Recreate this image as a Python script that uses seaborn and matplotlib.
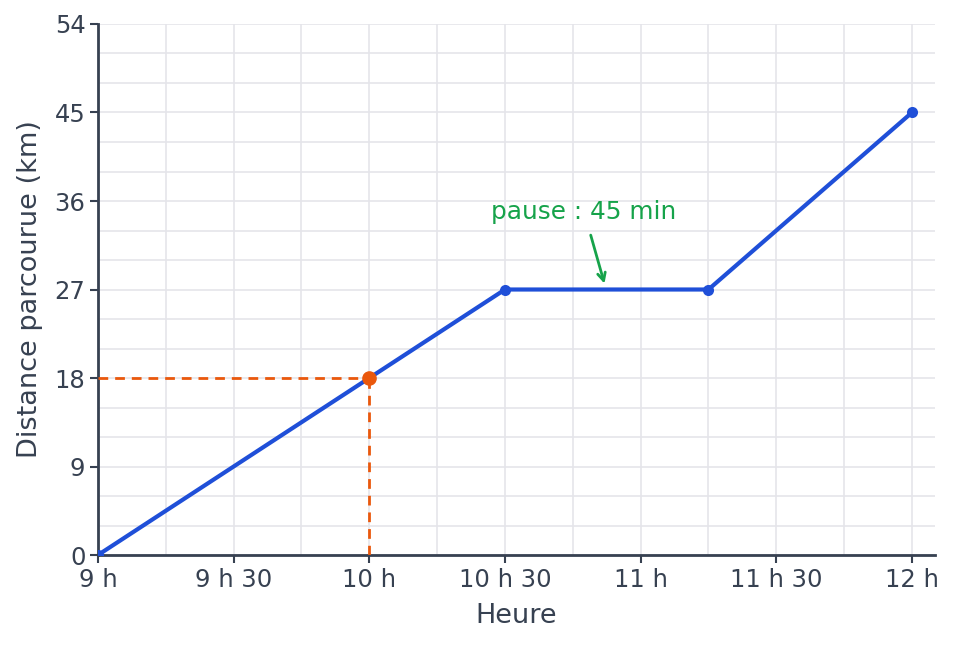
import numpy as np
import pandas as pd
import matplotlib
matplotlib.use("Agg")
import matplotlib.pyplot as plt
import seaborn as sns
from matplotlib.ticker import MultipleLocator, FuncFormatter

# data
heures = ["9:00", "10:00", "10:30", "11:15", "12:00"]
distances = [0, 18, 27, 27, 45]
point_heure = "10:00"
point_distance = 18
pause_label = "pause : 45 min"

def to_hours(s):
    h, m = s.split(":")
    return int(h) + int(m) / 60

df = pd.DataFrame({"Heure": [to_hours(h) for h in heures], "Distance": distances})
px = to_hours(point_heure)

sns.set_theme(style="white")
plt.rcParams['font.family'] = ['DejaVu Sans']

txt = "#374151"
blue = "#1f4fd8"
orange = "#ea580c"
green = "#16a34a"

fig = plt.figure(figsize=(9.55, 6.45), dpi=100)
ax = fig.add_axes([0.1026, 0.1395, 0.876, 0.8233])

sns.lineplot(data=df, x="Heure", y="Distance", ax=ax, color=blue, linewidth=3,
             marker="o", markersize=8, markeredgewidth=0, zorder=4)

ax.plot([9, px], [point_distance, point_distance], ls=(0, (3.5, 2.5)), color=orange, lw=2, zorder=3)
ax.plot([px, px], [0, point_distance], ls=(0, (3.5, 2.5)), color=orange, lw=2, zorder=3)
ax.plot([px], [point_distance], "o", color=orange, markersize=9.5, zorder=5)

ax.annotate(pause_label, xy=(10 + 52 / 60, 27.6), xytext=(10 + 47.5 / 60, 34.9),
            ha="center", va="center", color=green, fontsize=17.8,
            arrowprops=dict(arrowstyle="->", color=green, lw=2, shrinkA=6, shrinkB=0,
                            mutation_scale=14))

ax.set_xlim(9, 12 + 5 / 60)
ax.set_ylim(0, 54)
ax.xaxis.set_major_locator(MultipleLocator(0.5))
ax.xaxis.set_minor_locator(MultipleLocator(0.25))
ax.yaxis.set_major_locator(MultipleLocator(9))
ax.yaxis.set_minor_locator(MultipleLocator(3))

def fmt(v, pos):
    h = int(round(v * 60)) // 60
    m = int(round(v * 60)) % 60
    return f"{h} h" if m == 0 else f"{h} h {m:02d}"

ax.xaxis.set_major_formatter(FuncFormatter(fmt))
ax.grid(True, which="both", color="#e5e5ea", lw=1.2)
ax.set_axisbelow(True)

for s in ["top", "right"]:
    ax.spines[s].set_visible(False)
for s in ["left", "bottom"]:
    ax.spines[s].set_color(txt)
    ax.spines[s].set_linewidth(2)

ax.tick_params(axis="both", which="major", direction="out", length=6, width=1.5,
               color=txt, labelcolor=txt, labelsize=17.5, bottom=True, left=True, pad=3)
ax.tick_params(axis="both", which="minor", length=0)
ax.set_xlabel("Heure", fontsize=19.5, color=txt, labelpad=8)
ax.set_ylabel("Distance parcourue (km)", fontsize=19.5, color=txt, labelpad=8)

fig.savefig("out.png", dpi=100)
